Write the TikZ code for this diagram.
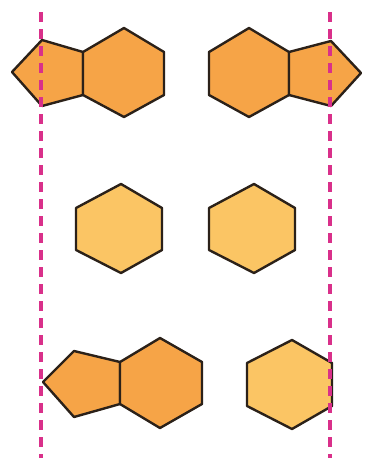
\documentclass[tikz,border=0pt]{standalone}
\definecolor{darkor}{HTML}{F6A447}
\definecolor{lightor}{HTML}{FBC564}
\definecolor{edge}{HTML}{2B2119}
\definecolor{mag}{HTML}{D9308A}
\tikzset{
  ringA/.style={fill=darkor,draw=edge,line width=2.4pt,line join=round},
  ringB/.style={fill=lightor,draw=edge,line width=2.4pt,line join=round},
  mirror/.style={draw=mag,line width=3.2pt,dash pattern=on 10pt off 7pt}
}
\begin{document}
\begin{tikzpicture}[x=1pt,y=-1pt]
\useasboundingbox (0,0) rectangle (369,466);
% top left
\path[ringA] (83,52) -- (42,40) -- (12,72) -- (42,106) -- (83,95) -- cycle;
\path[ringA] (124,28) -- (164,52) -- (164,95) -- (124,117) -- (83,95) -- (83,52) -- cycle;
% top right
\path[ringA] (249,28) -- (289,52) -- (289,95) -- (249,117) -- (209,95) -- (209,52) -- cycle;
\path[ringA] (289,52) -- (331,41) -- (361,73) -- (331,106) -- (289,95) -- cycle;
% middle
\path[ringB] (121,184) -- (162,208) -- (162,250) -- (121,273) -- (76,250) -- (76,208) -- cycle;
\path[ringB] (254,184) -- (295,208) -- (295,250) -- (254,273) -- (209,250) -- (209,208) -- cycle;
% bottom left
\path[ringA] (120,362) -- (74,351) -- (43,382) -- (74,417) -- (120,404) -- cycle;
\path[ringA] (160,338) -- (202,362) -- (202,404) -- (160,428) -- (120,404) -- (120,362) -- cycle;
% bottom right
\path[ringB] (292,340) -- (332,363) -- (332,406) -- (292,429) -- (247,406) -- (247,363) -- cycle;
% mirror lines
\coordinate (l1) at (41,12); \coordinate (l2) at (41,458);
\coordinate (r1) at (330,12); \coordinate (r2) at (330,458);
\draw[mirror] (l1) -- (l2);
\draw[mirror] (r1) -- (r2);
\end{tikzpicture}
\end{document}
